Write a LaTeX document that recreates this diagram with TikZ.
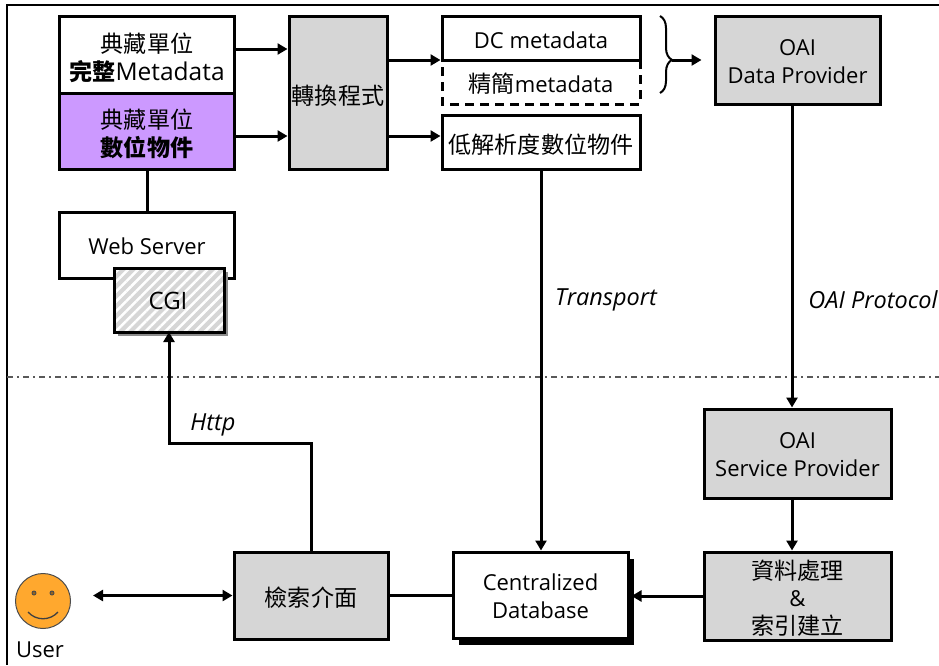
\documentclass[tikz,border=0pt]{standalone}
\usepackage{fontspec}
\setmainfont{Open Sans}
\newfontfamily\cjk[Scale=1.05]{Noto Sans CJK TC}
\usetikzlibrary{arrows.meta,patterns.meta,shadows,decorations.pathreplacing}
\definecolor{boxgray}{HTML}{D6D6D6}
\definecolor{boxpurple}{HTML}{CC99FF}
\definecolor{faceorange}{HTML}{FFA82E}
\newcommand{\topgap}[1]{\rule{0pt}{#1pt}}
\tikzset{
  plainbox/.style={draw,line width=3pt,align=center,inner sep=0,font=\fontsize{22}{28}\selectfont},
  graybox/.style={plainbox,fill=boxgray},
  tag/.style={inner sep=0,font=\fontsize{23.5}{26}\selectfont\itshape},
  arw/.style={line width=3pt,-{Triangle[length=10pt,width=11pt]}},
  lnk/.style={line width=3pt}
}
\begin{document}
\begin{tikzpicture}[x=1pt,y=-1pt]
        \useasboundingbox (0,0) rectangle (939,665);
        \fill[white] (0,0) rectangle (939,665);
        \draw[line width=2.5pt] (939,5) -- (7,5) -- (7,665);
        \draw[line width=1.5pt,dash pattern=on 6pt off 4pt on 1.5pt off 4.5pt,black!65] (7,377) -- (939,377);
        \node[plainbox,minimum width=175pt,minimum height=77pt] (meta) at (147,54.5) {\topgap{27}{\cjk 典藏單位}\\{\cjk\bfseries 完整}{\fontsize{24.5}{28}\selectfont Metadata}};
        \node[plainbox,fill=boxpurple,minimum width=175pt,minimum height=76pt] (obj) at (147,131) {\topgap{26}{\cjk 典藏單位}\\{\cjk\bfseries 數位物件}};
        \node[graybox,minimum width=98pt,minimum height=153pt] (conv) at (338,92.5) {\topgap{26}\cjk 轉換程式};
        \node[plainbox,draw=none,outer sep=0pt,minimum width=198pt,minimum height=44pt] (lite) at (541,82) {\topgap{24}{\cjk 精簡}metadata};
        \draw[line width=3pt,dash pattern=on 9pt off 6pt] (lite.north east) -- (lite.south east) -- (lite.south west) -- (lite.north west);
        \node[plainbox,minimum width=198pt,minimum height=44pt] (dc) at (541,38) {\topgap{21}DC metadata};
        \node[plainbox,minimum width=198pt,minimum height=54pt] (low) at (541,142) {\topgap{24}\cjk 低解析度數位物件};
        \node[graybox,minimum width=165pt,minimum height=88pt] (dp) at (797.5,60) {\topgap{20}OAI\\Data Provider};
        \node[plainbox,minimum width=175pt,minimum height=66pt] (web) at (147,245) {\topgap{19}Web Server};
        \node[plainbox,fill=boxgray,outer sep=0pt,minimum width=110pt,minimum height=64pt,
          drop shadow={shadow xshift=4pt,shadow yshift=-4pt,fill=black!45,opacity=1},
          postaction={pattern={Lines[angle=45,distance=7pt,line width=2.5pt]},pattern color=white}] (cgi) at (169,300) {};
        \draw[line width=3pt] (cgi.north west) rectangle (cgi.south east);
        \node[inner sep=0,font=\fontsize{24}{26}\selectfont] (cgitxt) at (168,301) {CGI};
        \node[graybox,minimum width=187pt,minimum height=89pt] (sp) at (797.5,453.5) {\topgap{19}OAI\\Service Provider};
        \node[graybox,minimum width=187pt,minimum height=88pt,font=\fontsize{22}{27.5}\selectfont] (idx) at (797.5,596) {\topgap{23}{\cjk 資料處理}\\\&\\{\cjk 索引建立}};
        \node[plainbox,fill=white,minimum width=175pt,minimum height=86pt,
          drop shadow={shadow xshift=5.5pt,shadow yshift=-6.5pt,fill=black,opacity=1}] (db) at (540.5,595) {\topgap{20}Centralized\\Database};
        \node[graybox,minimum width=154pt,minimum height=87pt] (search) at (311,595.5) {\topgap{24}\cjk 檢索介面};
        \node[circle,draw=black!70,line width=1pt,fill=faceorange,minimum size=55pt,inner sep=0] (face) at (43,601) {};
        \fill[black!70] (34,593) circle (2.5pt) (52,593) circle (2.5pt);
        \fill[faceorange!60!black] (34,593) circle (1.5pt) (52,593) circle (1.5pt);
        \draw[line width=1.3pt,black!75] (28,612) .. controls (36,621) and (50,621) .. (58,612);
        \node[inner sep=0,font=\fontsize{22}{26}\selectfont] (user) at (40,650) {User};
        \node[tag] (transport) at (606,300) {Transport};
        \node[tag] (oaiproto) at (873,300) {OAI Protocol};
        \node[tag] (http) at (213,425) {Http};
        \draw[arw] ([yshift=5.5pt]meta.east) -- ([yshift=43.5pt]conv.west);
        \draw[arw] ([yshift=-5pt]obj.east) -- ([yshift=-43.5pt]conv.west);
        \draw[arw] ([yshift=32.5pt]conv.east) -- ([yshift=-22pt]dc.west);
        \draw[arw] ([yshift=-43.5pt]conv.east) -- ([yshift=6pt]low.west);
        \draw[lnk] (obj.south) -- (web.north);
        \draw[decorate,decoration={brace,amplitude=12pt,aspect=0.57},line width=2pt] (660,16) -- (660,93);
        \coordinate (brctip) at (672,60);
        \draw[arw] (brctip) -- ([xshift=-12pt]dp.west);
        \draw[arw] (low.south) -- (low.south |- db.north);
        \draw[arw] ([xshift=-5.5pt]dp.south) -- ([xshift=-5.5pt]sp.north);
        \draw[arw] ([xshift=-5.5pt]sp.south) -- ([xshift=-5.5pt]idx.north);
        \draw[arw] (idx.west) -- ([xshift=2pt,yshift=-1pt]db.east);
        \draw[lnk] (search.east) -- ([yshift=-0.5pt]db.west);
        \coordinate (userend) at (93,595.5);
        \draw[line width=3pt,{Triangle[length=10pt,width=11pt]}-{Triangle[length=10pt,width=11pt]}] (userend) -- (search.west);
        \draw[arw] (search.north) -- (311,443) -- (169,443) -- (cgi.south);
      \end{tikzpicture}
\end{document}
